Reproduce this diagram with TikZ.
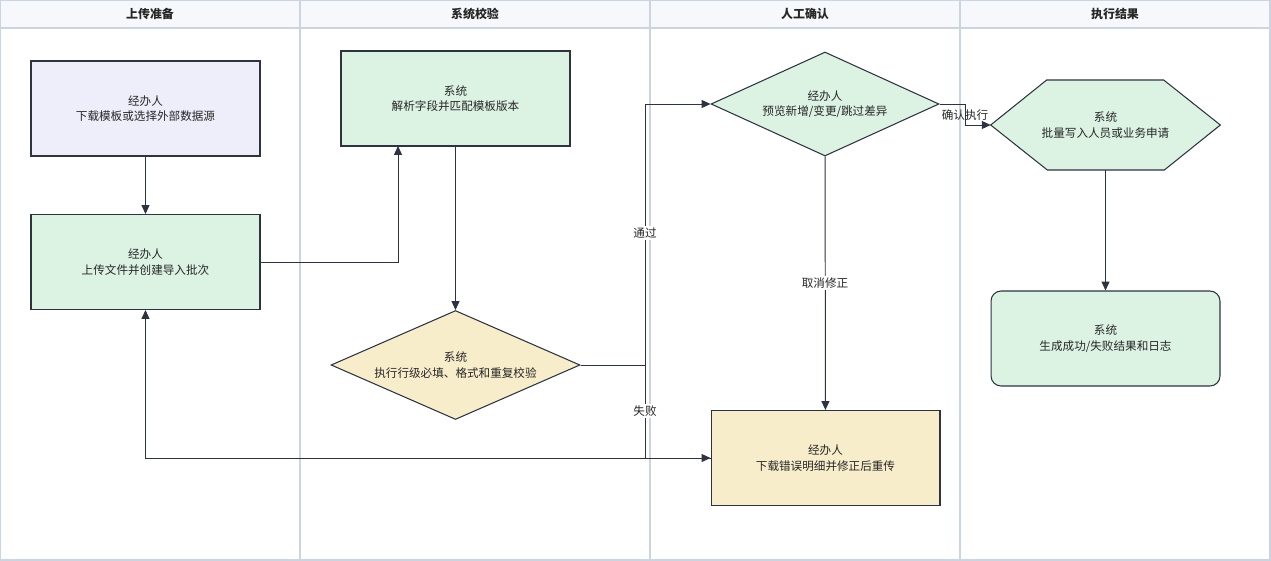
\documentclass[tikz,border=0pt]{standalone}
\usepackage{fontspec}
\setmainfont{Noto Sans CJK SC}
\usepackage{tikz}
\usetikzlibrary{arrows.meta}
\usetikzlibrary{shapes.geometric}
\usetikzlibrary{backgrounds}

\definecolor{laneLine}{RGB}{203,213,225}
\definecolor{headFill}{RGB}{246,248,252}
\definecolor{stepLine}{RGB}{45,52,64}
\definecolor{lavFill}{RGB}{238,238,251}
\definecolor{greenFill}{RGB}{220,243,228}
\definecolor{yellowFill}{RGB}{248,237,203}

\tikzset{
  every node/.style={font=\fontsize{6.6}{8.8}\selectfont, text=black!85, align=center},
  stepbox/.style={rectangle, draw=stepLine, line width=0.6pt, minimum width=4.58cm, minimum height=1.9cm},
  checkbox/.style={diamond, draw=stepLine, line width=0.6pt, inner sep=0pt, aspect=2.3},
  flow/.style={draw=stepLine, line width=0.55pt, -{Triangle[length=5pt,width=4.5pt]}},
  elabel/.style={fill=white, inner sep=1pt},
  lanehead/.style={font=\fontsize{6.8}{8}\selectfont\bfseries}
}

\begin{document}
\begin{tikzpicture}[x=0.02cm, y=-0.02cm]
\useasboundingbox (0,0) rectangle (1271,561);
% lanes
\fill[headFill] (0.5,0.5) rectangle (1270,28);
\draw[laneLine, line width=0.6pt] (0.5,0.5) rectangle (1270,560);
\draw[laneLine, line width=0.6pt] (0.5,28) -- (1270,28);
\foreach \x in {300,650,960}
  \draw[laneLine, line width=0.6pt] (\x,0.5) -- (\x,560);
\node[lanehead] (h1) at (150,14) {上传准备};
\node[lanehead] (h2) at (475,14) {系统校验};
\node[lanehead] (h3) at (805,14) {人工确认};
\node[lanehead] (h4) at (1115,14) {执行结果};

% steps
\node[stepbox, fill=lavFill] (tpl) at (145.5,108.5) {经办人\\下载模板或选择外部数据源};
\node[stepbox, fill=greenFill] (upload) at (145.5,262) {经办人\\上传文件并创建导入批次};
\node[stepbox, fill=greenFill] (parse) at (455.5,98.5) {系统\\解析字段并匹配模板版本};
\node[checkbox, fill=yellowFill, minimum width=4.98cm, minimum height=2.18cm] (rowchk) at (455.5,365) {系统\\执行行级必填、格式和重复校验};
\node[checkbox, fill=greenFill, minimum width=4.56cm, minimum height=2.08cm] (preview) at (825,104) {经办人\\预览新增/变更/跳过差异};
\node[stepbox, fill=yellowFill] (fix) at (825.5,458) {经办人\\下载错误明细并修正后重传};
\node[minimum width=4.58cm, minimum height=1.8cm] (write) at (1105.5,125) {系统\\批量写入人员或业务申请};
\begin{pgfonlayer}{background}
\filldraw[draw=stepLine, line width=0.6pt, fill=greenFill] (write.west) -- ++(56,-45) -- ++(117,0)
  -- (write.east) -- ++(-56,45) -- ++(-117,0) -- cycle;
\end{pgfonlayer}
\node[stepbox, fill=greenFill, rounded corners=0.2cm] (result) at (1105.5,338.5) {系统\\生成成功/失败结果和日志};

\coordinate (parseIn) at (398,146);
\coordinate (split) at (645,365);

% connectors
\draw[flow] (tpl) -- (upload);
\draw[flow] (upload.east) -| (parseIn);
\draw[flow] (parse) -- (rowchk);
\draw[flow] (rowchk.east) -- (split) |- (preview.west);
\draw[flow] (rowchk.east) -- (split) |- (fix.west);
\draw[flow] (fix.west) -| (upload.south);
\draw[flow] (preview) -- (fix);
\draw[flow] (preview.east) -- ++(26,0) |- (write.west);
\draw[flow] (write) -- (result);

\node[elabel] (pass) at (645,233) {通过};
\node[elabel] (fail) at (645,411) {失败};
\node[elabel] (cancel) at (825,283) {取消修正};
\node[elabel, fill=none] (confirm) at (965,115) {确认执行};
\end{tikzpicture}
\end{document}
